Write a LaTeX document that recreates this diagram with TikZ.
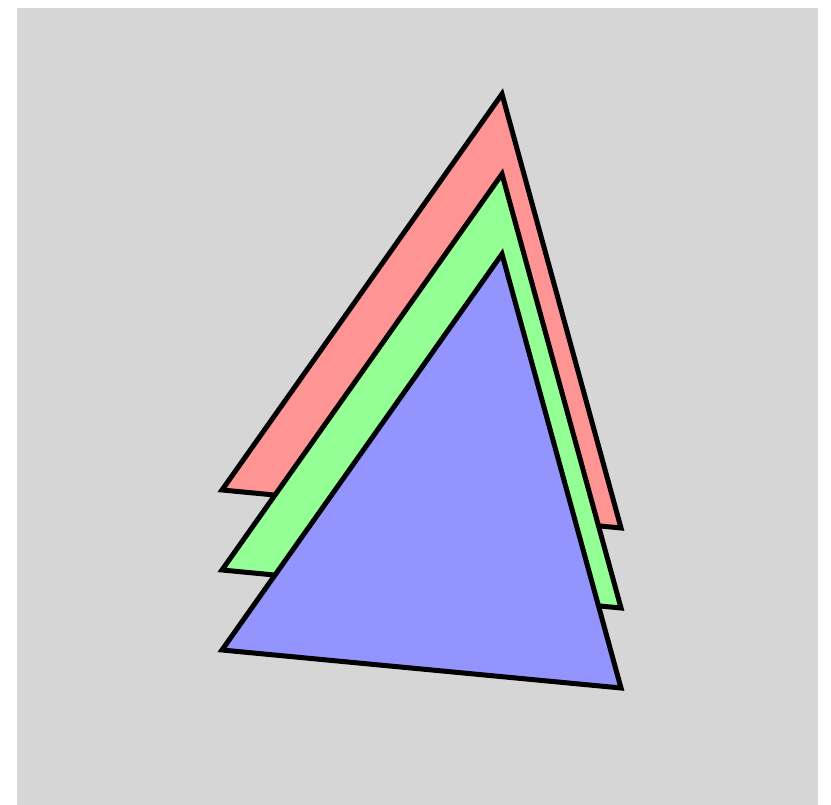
\documentclass[tikz,border=0pt]{standalone}
\usepackage{xcolor}
\usepackage{tikz}
\definecolor{bggray}{HTML}{D6D6D6}
\definecolor{sailred}{HTML}{FF9494}
\definecolor{sailgreen}{HTML}{94FF94}
\definecolor{sailblue}{HTML}{9494FF}
\tikzstyle{sail}=[draw=black, line width=5pt, line join=miter]
\begin{document}
\begin{tikzpicture}[x=1pt,y=-1pt]
\useasboundingbox (0,0) rectangle (831,805);
\fill[bggray] (17,8) rectangle (818,805);
\foreach \c/\dy in {sailred/0,sailgreen/80,sailblue/160}{
  \begin{scope}[yshift=-\dy pt]
    \node[coordinate] (top) at (502,94) {};
    \node[coordinate] (left) at (222,490) {};
    \node[coordinate] (right) at (621,528) {};
    \draw[sail, fill=\c] (top) -- (right) -- (left) -- cycle;
  \end{scope}
}
\end{tikzpicture}
\end{document}
